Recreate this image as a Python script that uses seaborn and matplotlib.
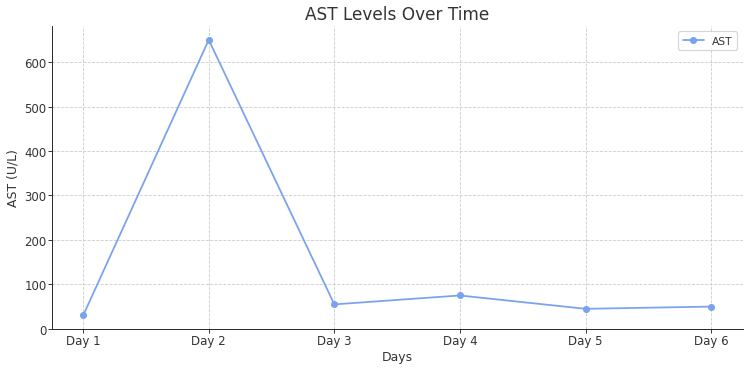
import pandas as pd
import matplotlib.pyplot as plt
import seaborn as sns

# Data
days = ["Day 1", "Day 2", "Day 3", "Day 4", "Day 5", "Day 6"]
ast_values = [30, 650, 55, 75, 45, 50]

df = pd.DataFrame({"Days": days, "AST": ast_values})

sns.set_style("ticks")
plt.rcParams["font.family"] = ["DejaVu Sans"]
plt.rcParams["text.color"] = "#333333"
plt.rcParams["axes.labelcolor"] = "#333333"
plt.rcParams["xtick.color"] = "#333333"
plt.rcParams["ytick.color"] = "#333333"

DPI = 85
fig, ax = plt.subplots(figsize = (750 / DPI, 371 / DPI), dpi = DPI)
fig.subplots_adjust(left = 0.069, right = 0.99, bottom = 0.111, top = 0.927)

sns.lineplot(data = df, x = "Days", y = "AST", marker = "o", color = "#7aa2ee",
             markeredgewidth = 0, markersize = 6, linewidth = 1.5, label = "AST",
             sort = False, ax = ax)

ax.grid(True, linestyle = "--", linewidth = 0.7, color = "#cccccc")
ax.set_axisbelow(True)
sns.despine(ax = ax)
ax.spines["left"].set_color("#222222")
ax.spines["bottom"].set_color("#222222")

ax.set_title("AST Levels Over Time", fontsize = 14.3, color = "#333333")
ax.set_xlabel("Days", fontsize = 10.5, labelpad = 2.5)
ax.set_ylabel("AST (U/L)", fontsize = 10.5, labelpad = 4)
ax.set_ylim(0, None)
ax.tick_params(labelsize = 10, pad = 1, length = 3.5)
ax.legend(loc = "upper right", fontsize = 9, frameon = True)

plt.savefig("out.png", dpi = DPI)
